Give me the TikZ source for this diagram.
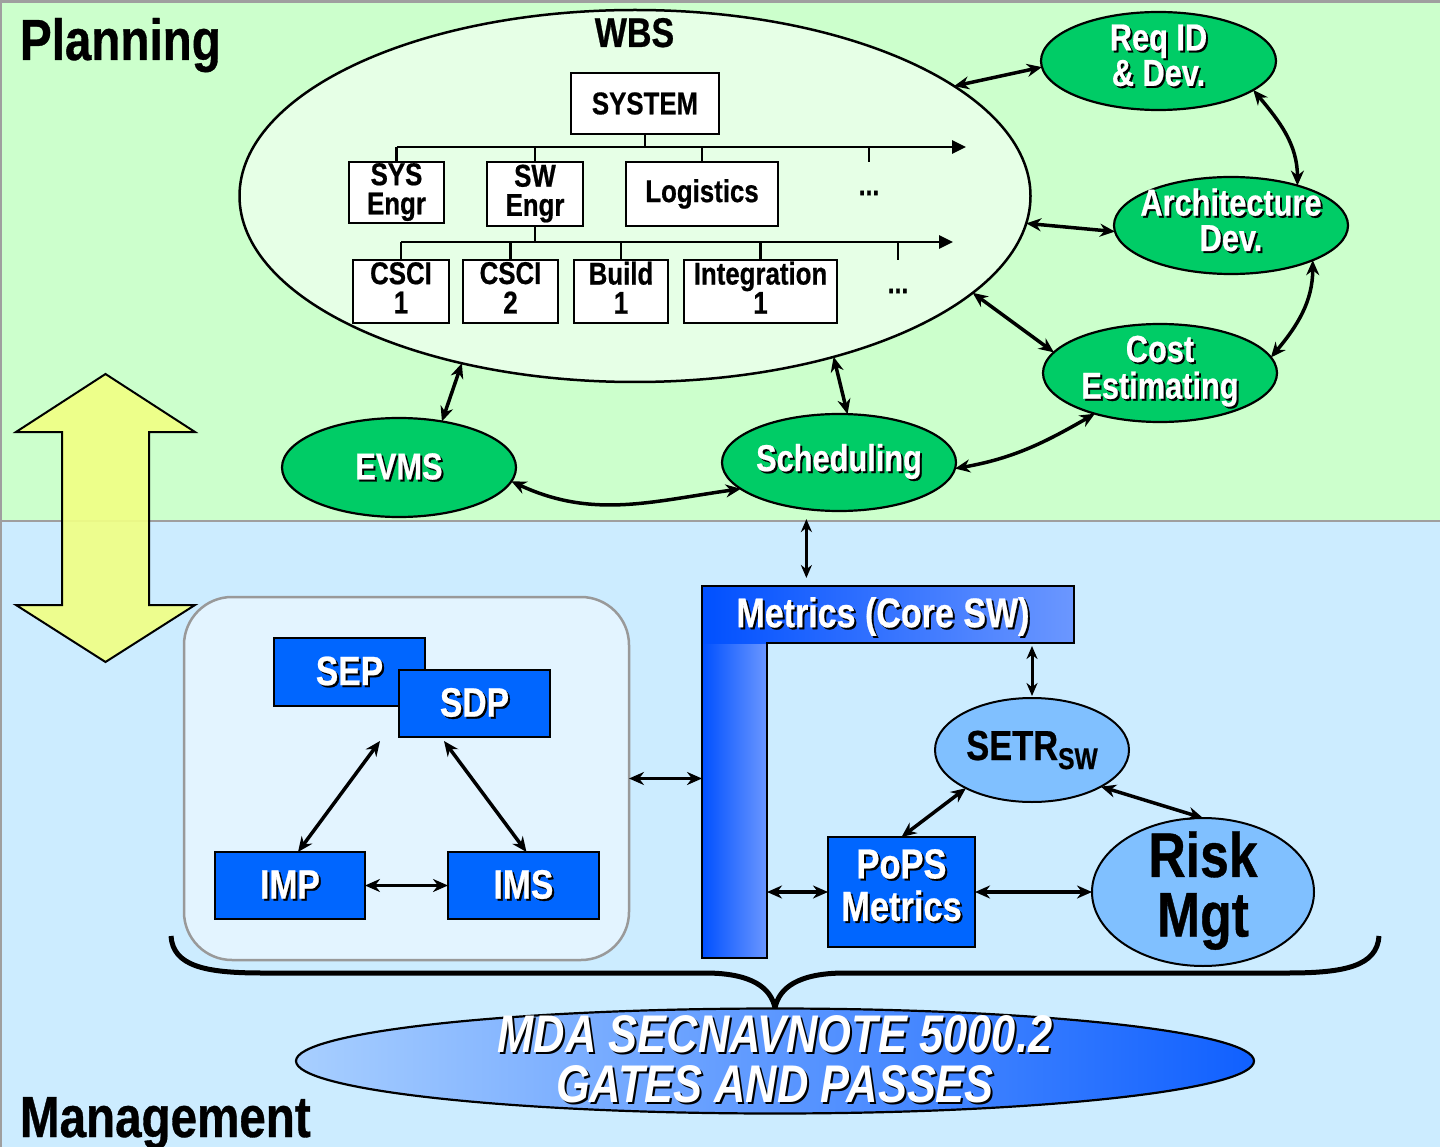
\documentclass[tikz,border=0pt]{standalone}
\usepackage{fontspec}
\setmainfont{Liberation Sans}[FakeStretch=0.82,BoldFeatures={FakeBold=0.6}]
\usetikzlibrary{arrows.meta,shapes.geometric}
\definecolor{bgtop}{HTML}{CCFFCC}
\definecolor{bgbot}{HTML}{CCECFF}
\definecolor{grn}{HTML}{00CC66}
\definecolor{blu}{HTML}{0066FF}
\definecolor{lblu}{HTML}{80C0FF}
\definecolor{panelc}{HTML}{E3F4FF}
\definecolor{wbsfill}{HTML}{E6FFE6}
\definecolor{yel}{HTML}{F0FF85}
\definecolor{mbA}{HTML}{0050FF}
\definecolor{mbB}{HTML}{6B97FF}
\definecolor{mdaA}{HTML}{A8CFFF}
\definecolor{mdaB}{HTML}{1060FF}
\newcommand\fsz[2]{\fontsize{#1}{#2}\selectfont\bfseries}
\newcommand\stk[1]{\begin{tabular}{@{}c@{}}#1\end{tabular}}
\newcommand\shd[1]{\leavevmode\rlap{\kern2pt\raisebox{-2pt}{\color{black}\stk{#1}}}{\color{white}\stk{#1}}}
\newcommand\shone[1]{\leavevmode\rlap{\kern2pt\raisebox{-2pt}{\color{black}#1}}{\color{white}#1}}
\newcommand\lowr[2]{\raisebox{-#1}[\height][\depth]{#2}}
\begin{document}
\begin{tikzpicture}[x=1pt,y=-1pt,
  every node/.style={inner sep=0pt, outer sep=0pt},
  wbox/.style={draw, line width=2.2pt, fill=white, font=\fsz{31.5}{25}},
  gell/.style={ellipse, draw, line width=2.2pt, fill=grn, inner sep=-10pt, font=\fsz{37.5}{32}},
  bbox/.style={draw, line width=2.2pt, fill=blu, font=\fsz{41}{38}},
  lell/.style={ellipse, draw, line width=2pt, fill=lblu, inner sep=-10pt},
  arr/.style={line width=3.5pt, {Stealth[length=15pt,width=13pt]}-{Stealth[length=15pt,width=13pt]}},
  arrt/.style={line width=3pt, {Stealth[length=13pt,width=11pt]}-{Stealth[length=13pt,width=11pt]}},
  tree/.style={line width=2.5pt},
  treearr/.style={line width=2.8pt, -{Triangle[length=14pt,width=13pt]}},
]
\useasboundingbox (0,0) rectangle (1440,1147);
% backgrounds
\fill[bgtop] (0,0) rectangle (1440,521);
\fill[bgbot] (0,521) rectangle (1440,1147);
\draw[gray!75, line width=3pt] (0,1.5) -- (1440,1.5);
\draw[gray!75, line width=2pt] (1,0) -- (1,1147);
\draw[gray!75, line width=2.5pt] (0,521) -- (1440,521);

\node[anchor=base west, font=\fsz{58}{58}] (plan) at (20,60) {Planning};
\node[anchor=base west, font=\fsz{58}{58}] (mgmt) at (20,1137) {Management};

% yellow double arrow
\draw[line width=2pt, fill=yel, fill opacity=0.92] (105.5,374) -- (195,432) -- (149,432) -- (149,605) -- (195,605) -- (105.5,662) -- (16,605) -- (62,605) -- (62,432) -- (16,432) -- cycle;

% WBS
\node[ellipse, draw, line width=2.5pt, fill=wbsfill, minimum width=791, minimum height=372] (wbs) at (635,196) {};
\node[anchor=base, font=\fsz{41.5}{40}] (wbst) at (634.5,47) {WBS};
\node[wbox, minimum width=148, minimum height=61] (system) at (645,103.5) {SYSTEM};
\node[wbox, minimum width=95, minimum height=61] (syse) at (396.5,192.5) {\stk{SYS\\Engr}};
\node[wbox, minimum width=96, minimum height=64] (swe) at (535,194) {\stk{SW\\Engr}};
\node[wbox, minimum width=152, minimum height=64] (logi) at (702,194) {Logistics};
\node[wbox, minimum width=96, minimum height=63] (csci1) at (401,291.5) {\stk{CSCI\\1}};
\node[wbox, minimum width=95, minimum height=63] (csci2) at (510.5,291.5) {\stk{CSCI\\2}};
\node[wbox, minimum width=94, minimum height=63] (build) at (621,291.5) {\stk{Build\\1}};
\node[wbox, minimum width=153, minimum height=63] (integ) at (760.5,291.5) {\stk{Integration\\1}};
\node[font=\fsz{30}{30}] (dots1) at (869,193) {...};
\node[font=\fsz{30}{30}] (dots2) at (898,291) {...};

\coordinate (l1) at (0,147);
\coordinate (l1e) at (966,147);
\coordinate (t1) at (869,162);
\draw[tree] (system.south) -- (system.south |- l1);
\draw[treearr] (syse.north |- l1) -- (l1e);
\draw[tree] (syse.north) -- (syse.north |- l1);
\draw[tree] (swe.north) -- (swe.north |- l1);
\draw[tree] (logi.north) -- (logi.north |- l1);
\draw[tree] (t1) -- (t1 |- l1);
\coordinate (l2) at (0,242);
\coordinate (l2e) at (953,242);
\coordinate (t2) at (898,260);
\draw[tree] (swe.south) -- (swe.south |- l2);
\draw[treearr] (csci1.north |- l2) -- (l2e);
\draw[tree] (csci1.north) -- (csci1.north |- l2);
\draw[tree] (csci2.north) -- (csci2.north |- l2);
\draw[tree] (build.north) -- (build.north |- l2);
\draw[tree] (integ.north) -- (integ.north |- l2);
\draw[tree] (t2) -- (t2 |- l2);

% green ellipses
\node[gell, minimum width=235, minimum height=98] (req) at (1158.5,61) {\shd{Req ID\\\& Dev.}};
\node[gell, minimum width=234, minimum height=97] (arch) at (1231,225.5) {\shd{Architecture\\Dev.}};
\node[gell, minimum width=234, minimum height=98] (cost) at (1160,373) {\shd{Cost\\Estimating}};
\node[gell, minimum width=234, minimum height=99] (evms) at (399,467.5) {\shone{EVMS}};
\node[gell, minimum width=234, minimum height=97] (sched) at (839,462.5) {\shone{Scheduling}};

\draw[arr] (wbs.19) -- (req.183);
\draw[arr] (req.-17) to[out=-50,in=90] (arch.31);
\draw[arr] (wbs.-4.5) -- (arch.183);
\draw[arr] (arch.-23) to[out=-90,in=50] (cost.8);
\draw[arr] (wbs.-16) -- (cost.169);
\draw[arr] (cost.212) to[out=210,in=10] (sched.-3);
\draw[arr] (wbs.224) -- (evms.47);
\draw[arr] (wbs.-39.5) -- (sched.80);
\draw[arr] (evms.-7) to[out=-25,in=188] (sched.195);

% metrics L
\shade[left color=mbA, right color=mbB] (702,586) rectangle (767,958);
\shade[left color=mbA, right color=mbB] (702,586) rectangle (1074,643);
\draw[line width=2pt] (702,586) -- (1074,586) -- (1074,643) -- (767,643) -- (767,958) -- (702,958) -- cycle;
\node[minimum width=372, minimum height=57, font=\fsz{41.5}{40}] (metrics) at (888,614.5) {\lowr{3pt}{\hspace*{-10pt}\shone{Metrics (Core SW)}}};
\node[minimum width=65, minimum height=372] (mbar) at (734.5,772) {};
\draw[arrt, shorten <=10pt, shorten >=8pt] (sched.235) -- (sched.235 |- metrics.north);

% right lower cluster
\node[lell, minimum width=194, minimum height=104] (setr) at (1032,750) {\fsz{42}{42}SETR\raisebox{-9pt}{\fsz{30}{30}SW}};
\node[lell, minimum width=222, minimum height=148, font=\fsz{63}{54}] (risk) at (1203,892) {\stk{Risk\\Mgt}};
\node[bbox, minimum width=147, minimum height=110, font=\fsz{42}{40}] (pops) at (901.5,892) {\shd{PoPS\\Metrics}};
\draw[arrt, shorten <=3pt, shorten >=2pt] (setr.north |- metrics.south) -- (setr.north);
\draw[arr] (setr.210) -- (pops.north);
\draw[arr] (setr.-28) -- (risk.north);
\draw[arr] (pops.east) -- (risk.west);
\draw[arr] (pops.west -| mbar.east) -- (pops.west);

% left panel
\node[draw=gray!80, line width=2.5pt, fill=panelc, rounded corners=48pt, minimum width=445, minimum height=363] (panel) at (406.5,778.5) {};
\node[bbox, minimum width=151, minimum height=68] (sep) at (349.5,672) {\shone{SEP}};
\node[bbox, minimum width=151, minimum height=67] (sdp) at (474.5,703.5) {\shone{SDP}};
\node[bbox, minimum width=150, minimum height=67] (imp) at (290,885.5) {\shone{IMP}};
\node[bbox, minimum width=151, minimum height=67] (ims) at (523.5,885.5) {\shone{IMS}};
\draw[arr] ([xshift=8pt]imp.north) -- ([xshift=-19pt,yshift=-4pt]sdp.south west);
\draw[arr] ([xshift=45pt,yshift=-4pt]sdp.south west) -- ([xshift=3pt]ims.north);
\draw[arr] (imp.east) -- (ims.west);
\draw[arr] (panel.east) -- (panel.east -| mbar.west);

% brace and MDA
\draw[line width=5pt, line join=round] (171,936) .. controls (173,966) and (205,973) .. (262,973) -- (705,973) .. controls (752,973) and (771,988) .. (775,1008) .. controls (779,988) and (798,973) .. (845,973) -- (1288,973) .. controls (1345,973) and (1377,966) .. (1379,936);
\node[ellipse, draw, line width=2.2pt, left color=mdaA, right color=mdaB, inner sep=-30pt, minimum width=958, minimum height=105, font=\fsz{53}{43}\itshape] (mda) at (775,1061) {\lowr{5pt}{\shd{MDA SECNAVNOTE 5000.2\\GATES AND PASSES}}};
\end{tikzpicture}
\end{document}
